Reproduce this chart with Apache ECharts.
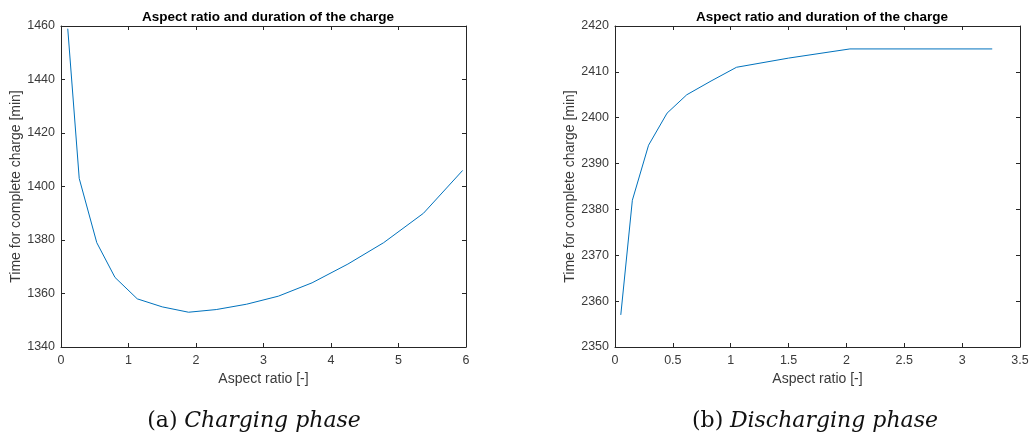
<!DOCTYPE html>
<html>
<head>
<meta charset="utf-8">
<script src="https://cdn.jsdelivr.net/npm/echarts@6/dist/echarts.min.js"></script>
<style>
html,body{margin:0;padding:0;background:#fff;}
#chart{width:1033px;height:445px;}
</style>
</head>
<body>
<div id="chart"></div>
<script>
// ---- Data ----
var chargeX = [0.1, 0.27, 0.53, 0.8, 1.13, 1.5, 1.89, 2.3, 2.75, 3.22, 3.72, 4.25, 4.78, 5.37, 5.95];
var chargeY = [1459, 1403, 1379, 1366, 1358, 1355, 1353, 1354, 1356, 1359, 1364, 1371, 1379, 1390, 1406];
var dischargeX = [0.05, 0.15, 0.29, 0.45, 0.62, 0.83, 1.05, 1.5, 2.03, 3.26];
var dischargeY = [2357, 2382, 2394, 2401, 2405, 2408, 2411, 2413, 2415, 2415];
var plotTitle = 'Aspect ratio and duration of the charge';
var xName = 'Aspect ratio [-]';
var yName = 'Time for complete charge [min]';
var leftX = {min: 0, max: 6, interval: 1};
var leftY = {min: 1340, max: 1460, interval: 20};
var rightX = {min: 0, max: 3.5, interval: 0.5};
var rightY = {min: 2350, max: 2420, interval: 10};
var captionA = ['(a)', 'Charging phase'];
var captionB = ['(b)', 'Discharging phase'];

function zip(a, b) { return a.map(function (v, i) { return [v, b[i]]; }); }

var axisColor = '#262626';
var labelColor = '#3a3a3a';
var font = 'Liberation Sans, Arial, sans-serif';

function mainAxis(s, gridIndex, isX, name, nameGap) {
  return {
    type: 'value', gridIndex: gridIndex, min: s.min, max: s.max, interval: s.interval,
    position: isX ? 'bottom' : 'left',
    name: name, nameLocation: 'middle', nameGap: nameGap,
    nameTextStyle: {color: labelColor, fontSize: 14, fontFamily: font},
    axisLine: {show: true, onZero: false, lineStyle: {color: axisColor, width: 1}},
    axisTick: {show: true, inside: true, length: 4, lineStyle: {color: axisColor}},
    axisLabel: {color: labelColor, fontSize: 12.5, fontFamily: font, margin: isX ? 7 : 6,
                formatter: function (v) { return String(v); }},
    splitLine: {show: false}
  };
}
function boxAxis(s, gridIndex, isX) {
  return {
    type: 'value', gridIndex: gridIndex, min: s.min, max: s.max, interval: s.interval,
    position: isX ? 'top' : 'right',
    axisLine: {show: true, onZero: false, lineStyle: {color: axisColor, width: 1}},
    axisTick: {show: true, inside: true, length: 4, lineStyle: {color: axisColor}},
    axisLabel: {show: false},
    splitLine: {show: false}
  };
}
function caption(parts) {
  return {
    text: '{n|' + parts[0] + '}  {i|' + parts[1] + '}',
    rich: {
      n: {fontFamily: 'DejaVu Serif, serif', fontSize: 22, fill: '#111', color: '#111'},
      i: {fontFamily: 'DejaVu Serif, serif', fontStyle: 'italic', fontSize: 22, fill: '#111', color: '#111'}
    },
    align: 'center', verticalAlign: 'middle'
  };
}

var chart = echarts.init(document.getElementById('chart'));
chart.setOption({
  backgroundColor: '#fff',
  animation: false,
  title: [
    {text: plotTitle, left: 263, top: 5, textAlign: 'center',
     textStyle: {fontSize: 13.5, fontWeight: 'bold', color: '#000', fontFamily: font}},
    {text: plotTitle, left: 817, top: 5, textAlign: 'center',
     textStyle: {fontSize: 13.5, fontWeight: 'bold', color: '#000', fontFamily: font}}
  ],
  grid: [
    {left: 61, top: 26, width: 405, height: 321},
    {left: 615, top: 26, width: 405, height: 321}
  ],
  xAxis: [
    mainAxis(leftX, 0, true, xName, 24),
    boxAxis(leftX, 0, true),
    mainAxis(rightX, 1, true, xName, 24),
    boxAxis(rightX, 1, true)
  ],
  yAxis: [
    mainAxis(leftY, 0, false, yName, 38),
    boxAxis(leftY, 0, false),
    mainAxis(rightY, 1, false, yName, 38),
    boxAxis(rightY, 1, false)
  ],
  series: [
    {type: 'line', xAxisIndex: 0, yAxisIndex: 0, data: zip(chargeX, chargeY),
     showSymbol: false, lineStyle: {color: '#0072BD', width: 1}, itemStyle: {color: '#0072BD'}},
    {type: 'line', xAxisIndex: 2, yAxisIndex: 2, data: zip(dischargeX, dischargeY),
     showSymbol: false, lineStyle: {color: '#0072BD', width: 1}, itemStyle: {color: '#0072BD'}}
  ],
  graphic: [
    {type: 'text', x: 254, y: 421, style: caption(captionA)},
    {type: 'text', x: 815, y: 421, style: caption(captionB)}
  ]
});
</script>
</body>
</html>
